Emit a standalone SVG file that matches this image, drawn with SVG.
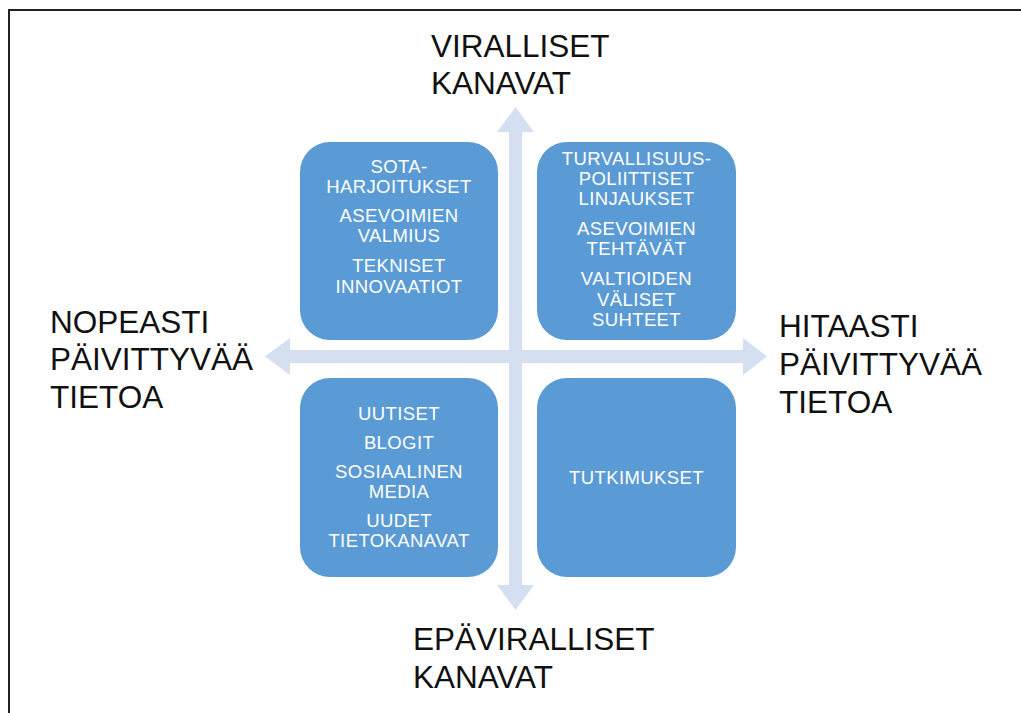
<svg xmlns="http://www.w3.org/2000/svg" width="1021" height="713" viewBox="0 0 1021 713">
<style>
.box{fill:#5b9bd5;}
.arrow{fill:#d4e0f1;}
.bt{font-family:"Liberation Sans",Arial,sans-serif;font-size:18.5px;letter-spacing:0.4px;fill:#ffffff;text-anchor:middle;}
.lbl{font-family:"Liberation Sans",Arial,sans-serif;font-size:31.5px;fill:#111111;}
.frame{stroke:#222222;stroke-width:2;fill:none;}
</style>
<rect width="1021" height="713" fill="#ffffff"/>
<path class="frame" d="M9,713 V10 H1021"/>
<g id="connectors">
<path class="arrow" d="M509,132 H497 L515.5,107 L534,132 H522 V585 H534 L515.5,610 L497,585 H509 Z"/>
<path class="arrow" d="M290,350 V338 L265,356.5 L290,375 V363 H743 V375 L767,356.5 L743,338 V350 Z"/>
</g>
<g id="box-tl">
<rect class="box" x="300" y="142" width="198" height="198" rx="30"/>
<text class="bt" x="399" y="173">SOTA-</text>
<text class="bt" x="399" y="192.5">HARJOITUKSET</text>
<text class="bt" x="399" y="221.5">ASEVOIMIEN</text>
<text class="bt" x="399" y="241.5">VALMIUS</text>
<text class="bt" x="399" y="271.5">TEKNISET</text>
<text class="bt" x="399" y="292.5">INNOVAATIOT</text>
</g>
<g id="box-tr">
<rect class="box" x="537" y="142" width="199" height="198" rx="30"/>
<text class="bt" x="636.5" y="164.5">TURVALLISUUS-</text>
<text class="bt" x="636.5" y="184.5">POLIITTISET</text>
<text class="bt" x="636.5" y="205">LINJAUKSET</text>
<text class="bt" x="636.5" y="234.5">ASEVOIMIEN</text>
<text class="bt" x="636.5" y="255">TEHTÄVÄT</text>
<text class="bt" x="636.5" y="285">VALTIOIDEN</text>
<text class="bt" x="636.5" y="306">VÄLISET</text>
<text class="bt" x="636.5" y="326">SUHTEET</text>
</g>
<g id="box-bl">
<rect class="box" x="300" y="378" width="198" height="199" rx="30"/>
<text class="bt" x="399" y="420">UUTISET</text>
<text class="bt" x="399" y="449">BLOGIT</text>
<text class="bt" x="399" y="477.5">SOSIAALINEN</text>
<text class="bt" x="399" y="497.5">MEDIA</text>
<text class="bt" x="399" y="526.5">UUDET</text>
<text class="bt" x="399" y="546.5">TIETOKANAVAT</text>
</g>
<g id="box-br">
<rect class="box" x="537" y="378" width="199" height="199" rx="30"/>
<text class="bt" x="636.5" y="484">TUTKIMUKSET</text>
</g>
<g id="label-top">
<text class="lbl" x="431" y="57">VIRALLISET</text>
<text class="lbl" x="431" y="94">KANAVAT</text>
</g>
<g id="label-left">
<text class="lbl" x="50" y="333">NOPEASTI</text>
<text class="lbl" x="50" y="370">PÄIVITTYVÄÄ</text>
<text class="lbl" x="50" y="408">TIETOA</text>
</g>
<g id="label-right">
<text class="lbl" x="779" y="337">HITAASTI</text>
<text class="lbl" x="779" y="375">PÄIVITTYVÄÄ</text>
<text class="lbl" x="779" y="413">TIETOA</text>
</g>
<g id="label-bottom">
<text class="lbl" x="413" y="650">EPÄVIRALLISET</text>
<text class="lbl" x="413" y="688">KANAVAT</text>
</g>
</svg>
